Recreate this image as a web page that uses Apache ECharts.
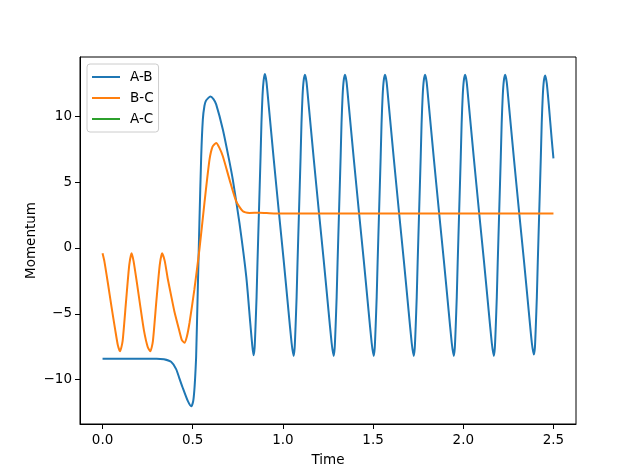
<!DOCTYPE html>
<html lang="en">
<head>
    <meta charset="UTF-8">
    <title>Momentum</title>
    <script src="https://cdn.jsdelivr.net/npm/echarts@6/dist/echarts.min.js"></script>
    <style>
        html, body { margin: 0; padding: 0; background: #fff; }
        #chart { width: 640px; height: 476px; }
    </style>
</head>
<body>
<div id="chart"></div>
<script>
// series names
let seriesNames = ['A-B', 'B-C', 'A-C'];

// tick labels
let xTicks = [0, 0.5, 1.0, 1.5, 2.0, 2.5];
let yTicks = [-10, -5, 0, 5, 10];

// A-B momentum, [time, value]
let abData = [
    [0, -8.42], [0.15, -8.42], [0.3, -8.42], [0.34, -8.45], [0.38, -8.65], [0.408, -9.2],
    [0.426, -9.9], [0.444, -10.6], [0.472, -11.6], [0.492, -12.03], [0.503, -11.6], [0.509, -10.8],
    [0.514, -9.7], [0.519, -8.2], [0.528, -3.2], [0.537, 1.9], [0.547, 6.96], [0.556, 9.74],
    [0.565, 10.8], [0.574, 11.2], [0.598, 11.5], [0.615, 11.3], [0.63, 10.9], [0.667, 9.0],
    [0.7, 6.8], [0.722, 5.2], [0.759, 1.9], [0.797, -2.2], [0.819, -5.7], [0.83, -7.4],
    [0.837, -8.15], [0.843, -7.6], [0.848, -6.0], [0.854, -3.7], [0.859, -1.1], [0.867, 2.66],
    [0.876, 6.9], [0.881, 9.5], [0.887, 11.6], [0.893, 12.7], [0.9, 13.2], [0.909, 12.6],
    [0.92, 11.0], [0.948, 6.9], [0.978, 2.66], [1.004, -0.9], [1.031, -4.8], [1.048, -7.2],
    [1.059, -8.2], [1.065, -7.6], [1.07, -6.0], [1.076, -3.7], [1.081, -1.1], [1.089, 2.66],
    [1.098, 6.9], [1.103, 9.5], [1.109, 11.6], [1.115, 12.7], [1.122, 13.15], [1.131, 12.6],
    [1.142, 11.0], [1.17, 6.9], [1.2, 2.66], [1.226, -0.9], [1.253, -4.8], [1.27, -7.2],
    [1.281, -8.2], [1.287, -7.6], [1.292, -6.0], [1.298, -3.7], [1.303, -1.1], [1.311, 2.66],
    [1.32, 6.9], [1.325, 9.5], [1.331, 11.6], [1.337, 12.7], [1.344, 13.15], [1.353, 12.6],
    [1.364, 11.0], [1.392, 6.9], [1.422, 2.66], [1.448, -0.9], [1.475, -4.8], [1.492, -7.2],
    [1.503, -8.2], [1.509, -7.6], [1.514, -6.0], [1.52, -3.7], [1.525, -1.1], [1.533, 2.66],
    [1.542, 6.9], [1.547, 9.5], [1.553, 11.6], [1.559, 12.7], [1.566, 13.15], [1.575, 12.6],
    [1.586, 11.0], [1.614, 6.9], [1.644, 2.66], [1.67, -0.9], [1.697, -4.8], [1.714, -7.2],
    [1.725, -8.2], [1.731, -7.6], [1.736, -6.0], [1.742, -3.7], [1.747, -1.1], [1.755, 2.66],
    [1.764, 6.9], [1.769, 9.5], [1.775, 11.6], [1.781, 12.7], [1.788, 13.15], [1.797, 12.6],
    [1.808, 11.0], [1.836, 6.9], [1.866, 2.66], [1.892, -0.9], [1.919, -4.8], [1.936, -7.2],
    [1.947, -8.2], [1.953, -7.6], [1.958, -6.0], [1.964, -3.7], [1.969, -1.1], [1.977, 2.66],
    [1.986, 6.9], [1.991, 9.5], [1.997, 11.6], [2.003, 12.7], [2.01, 13.15], [2.019, 12.6],
    [2.03, 11.0], [2.058, 6.9], [2.088, 2.66], [2.114, -0.9], [2.141, -4.8], [2.158, -7.2],
    [2.169, -8.2], [2.175, -7.6], [2.18, -6.0], [2.186, -3.7], [2.191, -1.1], [2.199, 2.66],
    [2.208, 6.9], [2.213, 9.5], [2.219, 11.6], [2.225, 12.7], [2.232, 13.15], [2.241, 12.6],
    [2.252, 11.0], [2.28, 6.9], [2.31, 2.66], [2.336, -0.9], [2.363, -4.8], [2.38, -7.2],
    [2.391, -8.1], [2.397, -7.6], [2.402, -6.0], [2.408, -3.7], [2.413, -1.1], [2.421, 2.66],
    [2.43, 6.9], [2.435, 9.5], [2.441, 11.6], [2.447, 12.7], [2.454, 13.1], [2.463, 12.5],
    [2.474, 10.9], [2.49, 8.3], [2.5, 6.8]
];

// B-C momentum
let bcData = [
    [0, -0.4], [0.01, -1.0], [0.03, -2.7], [0.05, -4.5], [0.07, -6.2], [0.085, -7.4],
    [0.097, -7.85], [0.111, -7.1], [0.13, -4.1], [0.148, -1.3], [0.161, -0.4], [0.172, -1.0],
    [0.19, -2.6], [0.21, -4.5], [0.23, -6.3], [0.25, -7.5], [0.265, -7.85], [0.279, -7.1],
    [0.298, -4.1], [0.317, -1.3], [0.33, -0.4], [0.345, -1.0], [0.361, -2.3], [0.38, -3.6],
    [0.398, -4.8], [0.426, -6.3], [0.44, -7.0], [0.454, -7.2], [0.468, -6.7], [0.482, -5.7],
    [0.509, -3.17], [0.537, -0.13], [0.565, 3.42], [0.593, 6.7], [0.61, 7.7], [0.63, 7.97],
    [0.648, 7.6], [0.667, 6.96], [0.704, 5.19], [0.741, 3.54], [0.778, 2.78], [0.815, 2.66],
    [0.87, 2.68], [0.95, 2.62], [1.2, 2.62], [1.6, 2.62], [2.0, 2.62], [2.5, 2.62]
];

// A-C has no visible line, only its legend entry
let acData = [];

let colors = ['#1f77b4', '#ff7f0e', '#2ca02c'];
let font = 'DejaVu Sans';

function makechart(dom) {
    var myChart = echarts.init(dom);
    let lineSeries = function (name, data, color) {
        return {
            name: name,
            type: 'line',
            data: data,
            showSymbol: false,
            smooth: 0.2,
            color: color,
            lineStyle: { width: 2, color: color },
            animation: false
        };
    };
    let option = {
        animation: false,
        backgroundColor: '#fff',
        textStyle: { fontFamily: font },
        grid: {
            left: 80, right: 64, top: 57, bottom: 52,
            show: true, borderColor: '#000', borderWidth: 1, backgroundColor: 'transparent'
        },
        legend: {
            data: seriesNames,
            orient: 'vertical',
            left: 87, top: 64,
            padding: [6, 5, 6, 5],
            itemGap: 7,
            itemWidth: 28,
            itemHeight: 2,
            icon: 'rect',
            backgroundColor: '#fff',
            borderColor: '#cccccc',
            borderWidth: 1,
            borderRadius: 3,
            textStyle: { fontSize: 13.5, color: '#000', fontFamily: font, padding: [0, 0, 0, 5], lineHeight: 14 }
        },
        xAxis: {
            type: 'value',
            min: -0.125, max: 2.625,
            name: 'Time',
            nameLocation: 'middle',
            nameGap: 29,
            nameMoveOverlap: false,
            nameTextStyle: { fontSize: 13.5, color: '#000', fontFamily: font },
            axisLine: { show: true, onZero: false, lineStyle: { color: '#000', width: 1 } },
            axisTick: { show: true, length: 5, customValues: xTicks, lineStyle: { color: '#000' } },
            axisLabel: {
                customValues: xTicks, margin: 9, fontSize: 13.5, color: '#000', fontFamily: font,
                formatter: function (v) { return v.toFixed(1); }
            },
            splitLine: { show: false }
        },
        yAxis: {
            type: 'value',
            min: -13.37, max: 14.5,
            name: 'Momentum',
            nameLocation: 'middle',
            nameGap: 42,
            nameMoveOverlap: false,
            nameTextStyle: { fontSize: 13.5, color: '#000', fontFamily: font },
            axisLine: { show: true, onZero: false, lineStyle: { color: '#000', width: 1 } },
            axisTick: { show: true, length: 5, customValues: yTicks, lineStyle: { color: '#000' } },
            axisLabel: {
                customValues: yTicks, margin: 8, fontSize: 13.5, color: '#000', fontFamily: font,
                formatter: function (v) { return v < 0 ? '\u2212' + Math.abs(v) : String(v); }
            },
            splitLine: { show: false }
        },
        series: [
            lineSeries(seriesNames[0], abData, colors[0]),
            lineSeries(seriesNames[1], bcData, colors[1]),
            lineSeries(seriesNames[2], acData, colors[2])
        ]
    };
    myChart.setOption(option);
}

makechart(document.getElementById('chart'));
</script>
</body>
</html>
